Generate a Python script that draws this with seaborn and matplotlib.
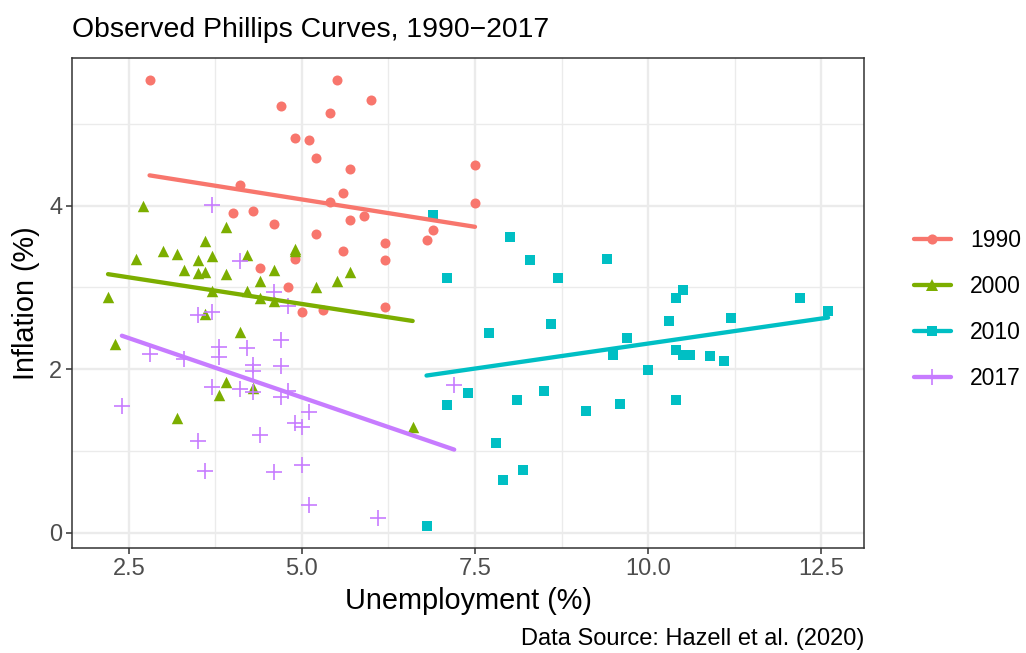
import numpy as np
import pandas as pd
import seaborn as sns
import matplotlib.pyplot as plt
from matplotlib.lines import Line2D
from matplotlib.ticker import MultipleLocator

# --- DATA ---
u_1990 = [2.8, 4.7, 5.5, 5.4, 4.9, 5.1, 5.2, 4.1, 5.4, 5.6, 4.0, 4.3, 4.6, 5.7,
          6.0, 7.5, 7.5, 5.7, 5.9, 6.9, 6.8, 5.6, 6.2, 6.2, 6.2, 5.2, 4.9, 4.4,
          4.8, 5.0, 5.3]
pi_1990 = [5.53, 5.22, 5.53, 5.13, 4.83, 4.80, 4.58, 4.25, 4.04, 4.16, 3.91, 3.94,
           3.77, 4.45, 5.29, 4.49, 4.03, 3.82, 3.87, 3.70, 3.58, 3.45, 3.54, 3.34,
           2.76, 3.65, 3.35, 3.24, 3.00, 2.70, 2.72]

u_2000 = [2.7, 3.9, 3.6, 3.0, 3.2, 2.6, 3.5, 3.7, 4.2, 4.9, 4.9, 3.3, 3.5, 3.6,
          3.9, 4.6, 4.4, 5.2, 5.5, 5.7, 2.2, 3.7, 4.2, 4.4, 4.6, 3.6, 4.1, 2.3,
          3.9, 3.8, 4.3, 3.2, 6.6]
pi_2000 = [4.00, 3.74, 3.57, 3.45, 3.41, 3.35, 3.34, 3.38, 3.40, 3.47, 3.44, 3.21,
           3.18, 3.19, 3.16, 3.21, 3.08, 3.01, 3.08, 3.19, 2.88, 2.96, 2.96, 2.87,
           2.83, 2.67, 2.46, 2.31, 1.85, 1.68, 1.77, 1.40, 1.29]

u_2010 = [6.9, 8.0, 8.3, 8.7, 9.4, 7.1, 7.7, 8.6, 9.7, 9.5, 7.4, 7.1, 8.1, 8.5,
          9.1, 9.6, 7.8, 8.2, 7.9, 6.8, 10.5, 10.4, 10.3, 11.2, 12.2, 12.6, 10.4,
          10.5, 10.6, 10.9, 11.1, 10.0, 10.4]
pi_2010 = [3.88, 3.62, 3.34, 3.12, 3.35, 3.11, 2.44, 2.55, 2.38, 2.18, 1.71, 1.56,
           1.63, 1.74, 1.49, 1.57, 1.10, 0.77, 0.65, 0.09, 2.97, 2.87, 2.59, 2.63,
           2.87, 2.71, 2.23, 2.18, 2.18, 2.16, 2.10, 1.99, 1.62]

u_2017 = [3.7, 4.1, 4.6, 4.8, 3.5, 3.7, 4.7, 3.8, 4.2, 2.8, 3.3, 3.8, 4.3, 4.3,
          4.7, 4.3, 3.7, 4.1, 4.7, 4.8, 5.1, 4.9, 5.0, 2.4, 3.5, 4.4, 3.6, 4.6,
          5.0, 5.1, 7.2, 6.1]
pi_2017 = [4.01, 3.32, 2.95, 2.77, 2.66, 2.70, 2.36, 2.27, 2.26, 2.19, 2.13, 2.15,
           2.05, 1.98, 2.04, 1.72, 1.78, 1.76, 1.66, 1.74, 1.48, 1.34, 1.30, 1.55,
           1.12, 1.20, 0.76, 0.74, 0.83, 0.34, 1.81, 0.18]

periods = ["1990", "2000", "2010", "2017"]
colors = ["#F8766D", "#7CAE00", "#00BFC4", "#C77CFF"]
markers = ["o", "^", "s", "+"]
msizes = [52, 68, 56, 140]

frames = []
for p, u, pi in zip(periods, [u_1990, u_2000, u_2010, u_2017],
                    [pi_1990, pi_2000, pi_2010, pi_2017]):
    frames.append(pd.DataFrame({"unemp": u, "infl": pi, "period": p}))
df = pd.concat(frames, ignore_index=True)

# --- PLOT ---
sns.set_theme(style="white")
plt.rcParams["font.family"] = ["Liberation Sans", "DejaVu Sans"]
plt.rcParams["text.color"] = "black"
plt.rcParams["axes.labelcolor"] = "black"

fig = plt.figure(figsize=(10.26, 6.53), dpi=100)
ax = fig.add_axes([0.0702, 0.161, 0.772, 0.750])

for p, col, mk, ms in zip(periods, colors, markers, msizes):
    sub = df[df["period"] == p]
    if mk == "+":
        ax.scatter(sub["unemp"], sub["infl"], marker="+", s=ms, color=col,
                   linewidths=1.2, zorder=3)
    else:
        ax.scatter(sub["unemp"], sub["infl"], marker=mk, s=ms, color=col,
                   linewidths=0, zorder=3)
    sns.regplot(data=sub, x="unemp", y="infl", ax=ax, ci=None, scatter=False,
                truncate=True, line_kws={"color": col, "lw": 3.1, "zorder": 4})

# axis limits with ggplot-like 5% expansion
xr = df["unemp"].max() - df["unemp"].min()
yr = df["infl"].max() - df["infl"].min()
ax.set_xlim(df["unemp"].min() - 0.05 * xr, df["unemp"].max() + 0.05 * xr)
ax.set_ylim(df["infl"].min() - 0.05 * yr, df["infl"].max() + 0.05 * yr)

ax.xaxis.set_major_locator(MultipleLocator(2.5))
ax.xaxis.set_minor_locator(MultipleLocator(1.25))
ax.yaxis.set_major_locator(MultipleLocator(2))
ax.yaxis.set_minor_locator(MultipleLocator(1))
ax.xaxis.set_major_formatter(plt.FuncFormatter(lambda v, _: f"{v:.1f}"))
ax.yaxis.set_major_formatter(plt.FuncFormatter(lambda v, _: f"{v:.0f}"))

ax.grid(which="major", color="#EBEBEB", lw=1.7, zorder=0)
ax.grid(which="minor", color="#EBEBEB", lw=1.0, zorder=0)
ax.set_axisbelow(True)
for s in ax.spines.values():
    s.set_color("#333333")
    s.set_linewidth(1.1)
ax.tick_params(which="major", direction="out", length=4, width=1.1, color="#333333",
               labelsize=17, labelcolor="#4D4D4D", pad=3, bottom=True, left=True)
ax.tick_params(which="minor", length=0)

ax.set_xlabel("Unemployment (%)", fontsize=20.8, va="top")
ax.xaxis.set_label_coords(0.5, -0.080)
ax.set_ylabel("Inflation (%)", fontsize=20.8, va="bottom")
ax.yaxis.set_label_coords(-0.041, 0.5)
fig.text(0.0702, 0.943, "Observed Phillips Curves, 1990\u22122017", fontsize=20.4,
         ha="left", va="baseline")
fig.text(0.842, 0.013, "Data Source: Hazell et al. (2020)", fontsize=17,
         ha="right", va="baseline")

handles = []
for col, mk in zip(colors, markers):
    if mk == "+":
        h = Line2D([], [], color=col, lw=3.1, marker="+", markersize=12,
                   markeredgewidth=1.2)
    elif mk == "^":
        h = Line2D([], [], color=col, lw=3.1, marker=mk, markersize=8.2,
                   markeredgewidth=0)
    else:
        h = Line2D([], [], color=col, lw=3.1, marker=mk, markersize=7.3,
                   markeredgewidth=0)
    handles.append(h)
fig.legend(handles, periods, loc="center left", bbox_to_anchor=(0.891, 0.526),
           frameon=False, fontsize=16.5, handlelength=1.6, labelspacing=1.0,
           handletextpad=0.83, borderaxespad=0, borderpad=0)

fig.savefig("out.png", dpi=100)
